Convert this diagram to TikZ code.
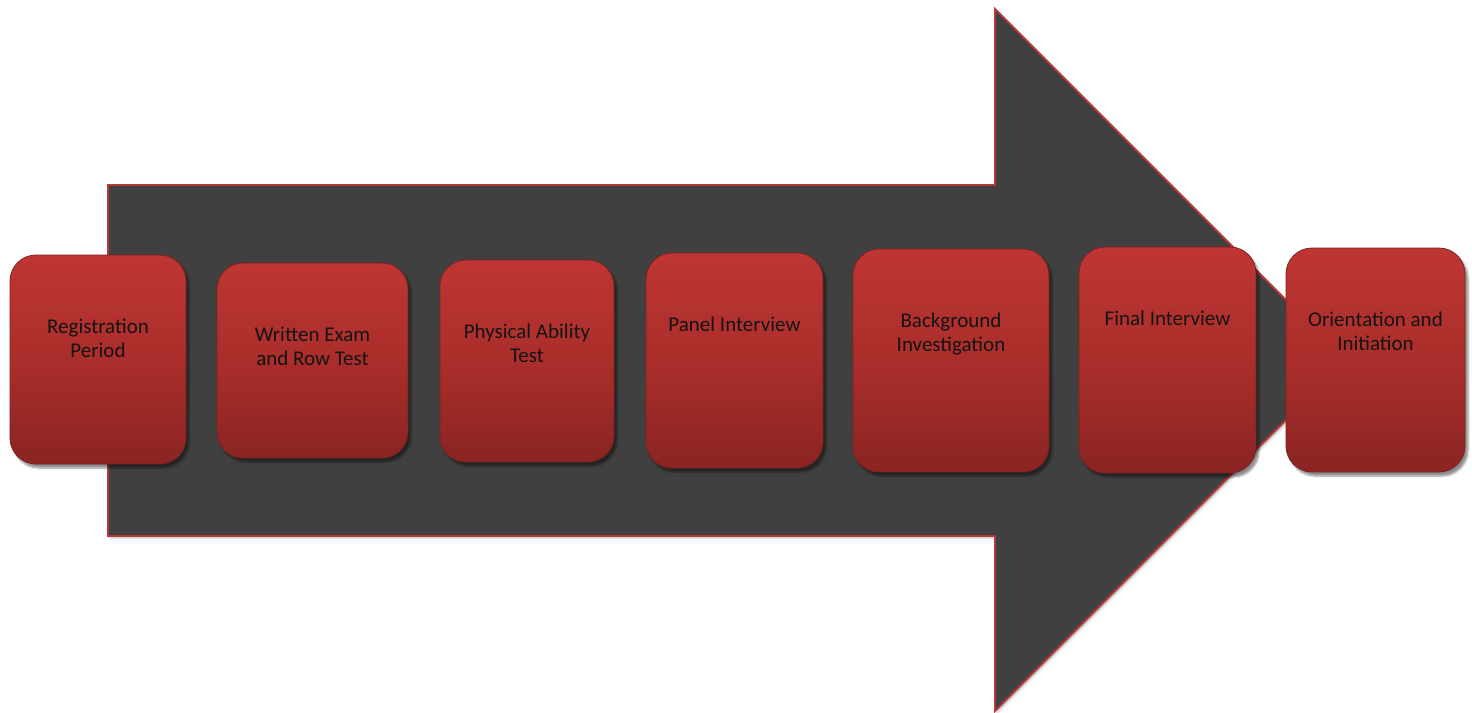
\documentclass[tikz,border=0pt]{standalone}
\usepackage{fontspec}
\setmainfont{Carlito}
\usetikzlibrary{shadows.blur}
\definecolor{arrowfill}{RGB}{64,64,64}
\definecolor{arrowline}{RGB}{180,58,56}
\definecolor{boxtop}{RGB}{190,54,51}
\definecolor{boxmid}{RGB}{170,46,43}
\definecolor{boxbot}{RGB}{138,36,34}
\definecolor{boxline}{RGB}{125,34,32}
\definecolor{txt}{RGB}{20,20,20}
\tikzset{
  bigarrow/.style={fill=arrowfill, draw=arrowline, line width=1.8pt, line join=miter,
    blur shadow={shadow xshift=2pt, shadow yshift=-2pt, shadow blur steps=4, shadow opacity=25}},
  stepbox/.style={draw=boxline, line width=0.8pt, rounded corners=26pt, inner sep=0pt,
    top color=boxtop, bottom color=boxbot, middle color=boxmid,
    blur shadow={shadow xshift=3pt, shadow yshift=-4pt, shadow blur steps=6, shadow opacity=45}},
  steptext/.style={anchor=north, inner sep=0pt, align=center, text=txt,
    font=\fontsize{21}{24}\selectfont}
}
\begin{document}
\begin{tikzpicture}[x=1pt,y=-1pt]
\useasboundingbox (0,0) rectangle (1472,712);
\draw[bigarrow] (108,185) -- (995,185) -- (995,9) -- (1346,360) -- (995,711) -- (995,536) -- (108,536) -- cycle;

\node[stepbox, minimum width=176pt, minimum height=209pt] (b1) at (98,359.5) {};
\node[stepbox, minimum width=191pt, minimum height=195pt] (b2) at (312.5,360.5) {};
\node[stepbox, minimum width=174pt, minimum height=202pt] (b3) at (527,361) {};
\node[stepbox, minimum width=177pt, minimum height=215pt] (b4) at (734.5,360.5) {};
\node[stepbox, minimum width=196pt, minimum height=223pt] (b5) at (951,360.5) {};
\node[stepbox, minimum width=177pt, minimum height=226pt] (b6) at (1167.5,360) {};
\node[stepbox, minimum width=179pt, minimum height=224pt] (b7) at (1375.5,360) {};

\node[steptext] (t1) at ([yshift=-62pt]b1.north) {\strut Registration\\Period};
\node[steptext] (t2) at ([yshift=-62pt]b2.north) {\strut Written Exam\\and Row Test};
\node[steptext] (t3) at ([yshift=-62pt]b3.north) {\strut Physical Ability\\Test};
\node[steptext] (t4) at ([yshift=-62pt]b4.north) {\strut Panel Interview};
\node[steptext] (t5) at ([yshift=-62pt]b5.north) {\strut Background\\Investigation};
\node[steptext] (t6) at ([yshift=-62pt]b6.north) {\strut Final Interview};
\node[steptext] (t7) at ([yshift=-62pt]b7.north) {\strut Orientation and\\Initiation};
\end{tikzpicture}
\end{document}
